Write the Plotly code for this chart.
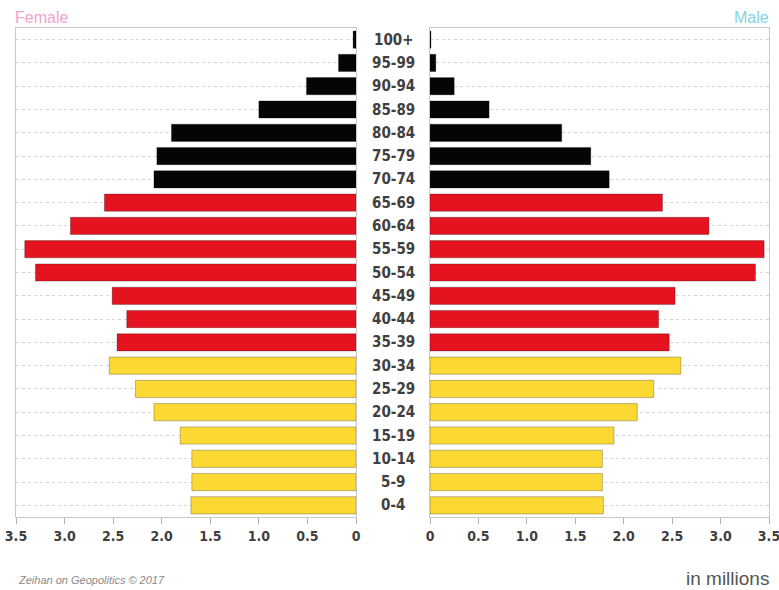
import plotly.graph_objects as go

ages = ["100+", "95-99", "90-94", "85-89", "80-84", "75-79", "70-74",
        "65-69", "60-64", "55-59", "50-54", "45-49", "40-44", "35-39",
        "30-34", "25-29", "20-24", "15-19", "10-14", "5-9", "0-4"]
female = [0.03, 0.18, 0.51, 1.00, 1.90, 2.05, 2.08,
          2.59, 2.94, 3.41, 3.30, 2.51, 2.36, 2.46,
          2.54, 2.27, 2.08, 1.81, 1.69, 1.69, 1.70]
male = [0.01, 0.06, 0.25, 0.61, 1.36, 1.66, 1.85,
        2.40, 2.88, 3.45, 3.36, 2.53, 2.36, 2.47,
        2.59, 2.31, 2.14, 1.90, 1.78, 1.78, 1.79]
groups = ["old"] * 7 + ["mid"] * 7 + ["young"] * 7
group_colors = {"old": "#050505", "mid": "#e5121f", "young": "#fbd932"}
colors = [group_colors[g] for g in groups]

tickvals = [0, 0.5, 1.0, 1.5, 2.0, 2.5, 3.0, 3.5]
ticktext = ["0", "0.5", "1.0", "1.5", "2.0", "2.5", "3.0", "3.5"]

W, H = 779, 590
ml, mr, mt, mb = 16, 10, 28, 73
pw = W - ml - mr
left_dom = [0, (356 - ml) / pw]
right_dom = [(430 - ml) / pw, 1.0]

COND = "Liberation Sans Narrow, DejaVu Sans Condensed, sans-serif"

fig = go.Figure()
bar_line = dict(color="rgba(0,0,0,0.25)", width=1)
fig.add_trace(go.Bar(y=ages, x=female, orientation="h", marker=dict(color=colors, line=bar_line),
                     xaxis="x", yaxis="y", showlegend=False))
fig.add_trace(go.Bar(y=ages, x=male, orientation="h", marker=dict(color=colors, line=bar_line),
                     xaxis="x2", yaxis="y2", showlegend=False))

tickfont = dict(family=COND, size=14, color="#404040", weight=600)
axis_common = dict(tickvals=tickvals, ticktext=ticktext, showgrid=False,
                   showline=True, linecolor="#c8c8c8", linewidth=1, mirror=True,
                   ticks="outside", ticklen=6, tickcolor="#b0b0b0", tickfont=tickfont,
                   zeroline=False, fixedrange=True, automargin=False,
                   ticklabeloverflow="allow")
yaxis_common = dict(categoryorder="array", categoryarray=ages[::-1], range=[-0.5, 20.5],
                    showticklabels=False, showgrid=True, gridcolor="#d5d5d5", griddash="dot",
                    gridwidth=1, showline=True, linecolor="#c8c8c8", mirror=True, zeroline=False,
                    automargin=False, fixedrange=True)

fig.update_layout(
    width=W, height=H,
    margin=dict(l=ml, r=mr, t=mt, b=mb),
    paper_bgcolor="white", plot_bgcolor="white",
    bargap=0.26,
    xaxis=dict(domain=left_dom, anchor="y", range=[3.5, 0], **axis_common),
    xaxis2=dict(domain=right_dom, anchor="y2", range=[0, 3.5], **axis_common),
    yaxis=dict(anchor="x", **yaxis_common),
    yaxis2=dict(anchor="x2", **yaxis_common),
)

annotations = []
for a in ages:
    annotations.append(dict(x=(393 - ml) / pw, xref="paper", y=a, yref="y", text=a,
                            showarrow=False, xanchor="center", yanchor="middle",
                            font=dict(family=COND, size=15, color="#404040", weight=600)))
annotations += [
    dict(x=0, xref="paper", y=1, yref="paper", yshift=0, text="Female", showarrow=False,
         xanchor="left", yanchor="bottom", xshift=-3,
         font=dict(family="Liberation Sans, Arial, sans-serif", size=16, color="#f2a2cd")),
    dict(x=1, xref="paper", y=1, yref="paper", yshift=0, text="Male", showarrow=False,
         xanchor="right", yanchor="bottom", xshift=2,
         font=dict(family="Liberation Sans, Arial, sans-serif", size=16, color="#7fd6df")),
    dict(x=1, xref="paper", y=0, yref="paper", yshift=-61, text="in millions", showarrow=False,
         xanchor="right", yanchor="middle", xshift=2,
         font=dict(family="Liberation Sans, Arial, sans-serif", size=19, color="#555555")),
    dict(x=0, xref="paper", y=0, yref="paper", yshift=-63, text="<i>Zeihan on Geopolitics © 2017</i>",
         showarrow=False, xanchor="left", yanchor="middle",
         font=dict(family="Liberation Sans, Arial, sans-serif", size=11, color="#8a8a8a")),
]
fig.update_layout(annotations=annotations)

fig.write_html("out.html", config={"displayModeBar": False},
               post_script="document.body.style.margin='0';")
